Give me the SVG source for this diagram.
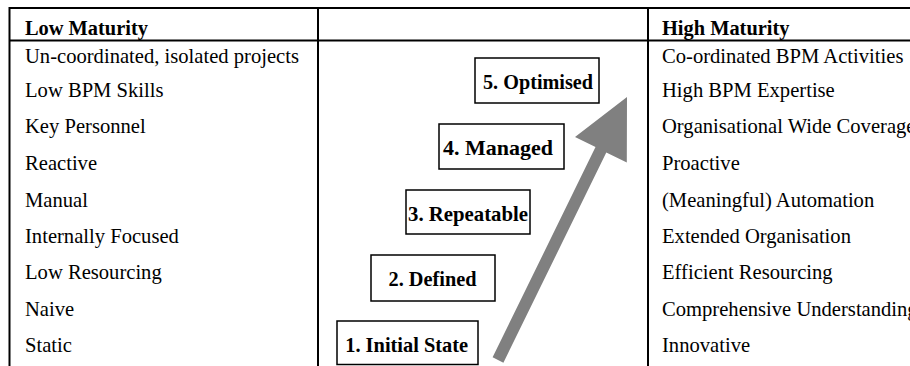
<svg xmlns="http://www.w3.org/2000/svg" width="910" height="366" viewBox="0 0 910 366">
<style>
.grid{stroke:#000;stroke-width:2;fill:none}
.box{fill:#fff;stroke:#000;stroke-width:1.5}
.t{font-family:"Liberation Serif","Times New Roman",serif;font-size:20.6px;fill:#000}
.h{font-family:"Liberation Serif","Times New Roman",serif;font-size:20.4px;font-weight:bold;fill:#000}
.b{font-family:"Liberation Serif","Times New Roman",serif;font-size:22px;font-weight:bold;fill:#000}
.arrow{fill:#808080;stroke:none}
</style>
<rect width="910" height="366" fill="#fff"/>
<g id="table">
<line class="grid" x1="9" y1="8" x2="910" y2="8"/>
<line class="grid" x1="9" y1="40.5" x2="910" y2="40.5"/>
<line class="grid" x1="9.5" y1="7" x2="9.5" y2="366"/>
<line class="grid" x1="318" y1="7" x2="318" y2="366"/>
<line class="grid" x1="648" y1="7" x2="648" y2="366"/>
</g>
<g id="low-maturity">
<text class="h" x="25" y="35">Low Maturity</text>
<text class="t" x="25" y="63">Un-coordinated, isolated projects</text>
<text class="t" x="25" y="97">Low BPM Skills</text>
<text class="t" x="25" y="133">Key Personnel</text>
<text class="t" x="25" y="170">Reactive</text>
<text class="t" x="25" y="207">Manual</text>
<text class="t" x="25" y="243">Internally Focused</text>
<text class="t" x="25" y="279">Low Resourcing</text>
<text class="t" x="25" y="316">Naive</text>
<text class="t" x="25" y="352">Static</text>
</g>
<g id="high-maturity">
<text class="h" x="662" y="35">High Maturity</text>
<text class="t" x="662" y="63">Co-ordinated BPM Activities</text>
<text class="t" x="662" y="97">High BPM Expertise</text>
<text class="t" x="662" y="133">Organisational Wide Coverage</text>
<text class="t" x="662" y="170">Proactive</text>
<text class="t" x="662" y="207">(Meaningful) Automation</text>
<text class="t" x="662" y="243">Extended Organisation</text>
<text class="t" x="662" y="279">Efficient Resourcing</text>
<text class="t" x="662" y="316">Comprehensive Understanding</text>
<text class="t" x="662" y="352">Innovative</text>
</g>
<g id="connectors">
<polygon class="arrow" points="492.6,357.3 595.5,147.1 575,137 627,97 626.8,162.6 606.3,152.5 503.4,362.7"/>
</g>
<g id="stage1">
<rect class="box" x="337" y="321" width="141" height="43.5"/>
<text class="b" x="406.7" y="352" text-anchor="middle" textLength="123" lengthAdjust="spacingAndGlyphs">1. Initial State</text>
</g>
<g id="stage2">
<rect class="box" x="371" y="255" width="124" height="46"/>
<text class="b" x="432.5" y="285.5" text-anchor="middle" textLength="88" lengthAdjust="spacingAndGlyphs">2. Defined</text>
</g>
<g id="stage3">
<rect class="box" x="406" y="190" width="124" height="44"/>
<text class="b" x="408" y="221" textLength="120" lengthAdjust="spacingAndGlyphs">3. Repeatable</text>
</g>
<g id="stage4">
<rect class="box" x="439" y="124" width="125" height="45"/>
<text class="b" x="443" y="155" textLength="110" lengthAdjust="spacingAndGlyphs">4. Managed</text>
</g>
<g id="stage5">
<rect class="box" x="475" y="58" width="124" height="45"/>
<text class="b" x="538" y="89" text-anchor="middle" textLength="110" lengthAdjust="spacingAndGlyphs">5. Optimised</text>
</g>
</svg>
